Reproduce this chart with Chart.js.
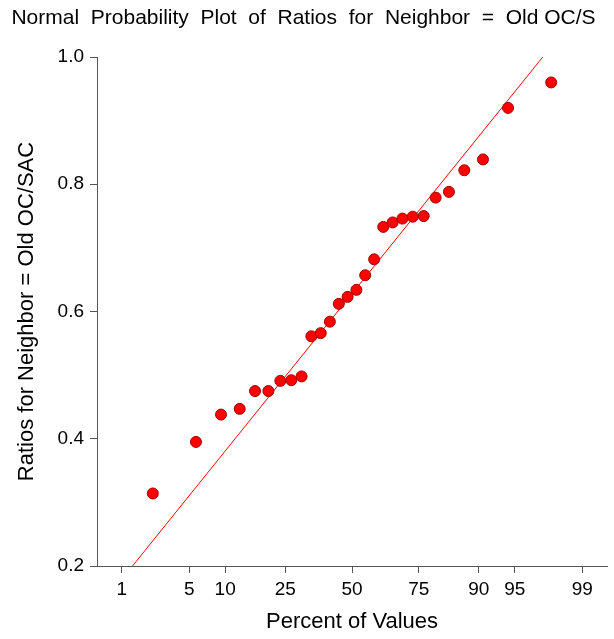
<!DOCTYPE html>
<html lang="en">
<head>
<meta charset="UTF-8" />
<title>Normal Probability Plot</title>
<script src="https://cdn.jsdelivr.net/npm/chart.js"></script>
<style>
  html, body { margin: 0; padding: 0; background: #fff; }
  #wrap { width: 614px; height: 639px; }
</style>
</head>
<body>
<div id="wrap"><canvas id="probPlot"></canvas></div>
<script>
  // sorted ratios and their plotting positions (percent of values)
  const ratioValues = [0.314, 0.395, 0.438, 0.447, 0.475, 0.475, 0.491, 0.492, 0.498, 0.561,
                       0.566, 0.584, 0.612, 0.623, 0.634, 0.657, 0.682, 0.733, 0.740, 0.746,
                       0.749, 0.750, 0.779, 0.788, 0.822, 0.839, 0.920, 0.960];
  const plotPercents = [2.21, 5.75, 9.29, 12.83, 16.37, 19.91, 23.45, 26.99, 30.53, 34.07,
                        37.61, 41.15, 44.69, 48.23, 51.77, 55.31, 58.85, 62.39, 65.93, 69.47,
                        73.01, 76.55, 80.09, 83.63, 87.17, 90.71, 94.25, 97.79];
  const tickPercents = [1, 5, 10, 25, 50, 75, 90, 95, 99];
  const yTickValues = [0.2, 0.4, 0.6, 0.8, 1.0];
  // reference line end points
  const fitPercents = [1.33, 97.3];
  const fitValues = [0.2, 1.0];

  const axisRange = [0.5, 99.5];

  // inverse standard normal CDF (Acklam)
  function probit(p) {
    const a = [-3.969683028665376e+01, 2.209460984245205e+02, -2.759285104469687e+02,
               1.383577518672690e+02, -3.066479806614716e+01, 2.506628277459239e+00];
    const b = [-5.447609879822406e+01, 1.615858368580409e+02, -1.556989798598866e+02,
               6.680131188771972e+01, -1.328068155288572e+01];
    const c = [-7.784894002430293e-03, -3.223964580411365e-01, -2.400758277161838e+00,
               -2.549732539343734e+00, 4.374664141464968e+00, 2.938163982698783e+00];
    const d = [7.784695709041462e-03, 3.224671290700398e-01, 2.445134137142996e+00,
               3.754408661907416e+00];
    const lo = 0.02425, hi = 1 - lo;
    let q, r;
    if (p < lo) {
      q = Math.sqrt(-2 * Math.log(p));
      return (((((c[0]*q+c[1])*q+c[2])*q+c[3])*q+c[4])*q+c[5]) /
             ((((d[0]*q+d[1])*q+d[2])*q+d[3])*q+1);
    }
    if (p > hi) {
      q = Math.sqrt(-2 * Math.log(1 - p));
      return -(((((c[0]*q+c[1])*q+c[2])*q+c[3])*q+c[4])*q+c[5]) /
              ((((d[0]*q+d[1])*q+d[2])*q+d[3])*q+1);
    }
    q = p - 0.5;
    r = q * q;
    return (((((a[0]*r+a[1])*r+a[2])*r+a[3])*r+a[4])*r+a[5])*q /
           (((((b[0]*r+b[1])*r+b[2])*r+b[3])*r+b[4])*r+1);
  }
  const z = pct => probit(pct / 100);

  const FONT = "'Liberation Sans', Arial, sans-serif";
  const AXIS_COLOR = '#555';

  const points = ratioValues.map((v, i) => ({ x: z(plotPercents[i]), y: v }));
  const fitLine = fitValues.map((v, i) => ({ x: z(fitPercents[i]), y: v }));

  // the x axis line runs a few pixels past the y axis on the left
  const axisStub = {
    id: 'axisStub',
    afterDraw(chart) {
      const { ctx, chartArea } = chart;
      ctx.save();
      ctx.strokeStyle = AXIS_COLOR;
      ctx.lineWidth = 1;
      ctx.beginPath();
      ctx.moveTo(chartArea.left - 5, chartArea.bottom + 0.5);
      ctx.lineTo(chartArea.left, chartArea.bottom + 0.5);
      ctx.stroke();
      ctx.restore();
    }
  };

  new Chart(document.getElementById('probPlot'), {
    type: 'scatter',
    data: {
      datasets: [
        {
          label: 'Fit',
          type: 'line',
          data: fitLine,
          borderColor: '#ff0000',
          borderWidth: 1,
          pointRadius: 0,
          fill: false,
          order: 2
        },
        {
          label: 'Ratios',
          data: points,
          backgroundColor: '#ff0000',
          borderColor: '#a00000',
          borderWidth: 1,
          pointRadius: 5.5,
          pointHoverRadius: 5.5,
          order: 1
        }
      ]
    },
    options: {
      responsive: true,
      maintainAspectRatio: false,
      animation: false,
      layout: { padding: { left: 0, right: 7, top: 0, bottom: 0 } },
      plugins: {
        legend: { display: false },
        tooltip: { enabled: false },
        title: {
          display: true,
          text: 'Normal  Probability  Plot  of  Ratios  for  Neighbor  =  Old OC/S',
          color: '#000',
          font: { family: FONT, size: 21, weight: 'normal' },
          padding: { top: 6, bottom: 25.8 }
        }
      },
      scales: {
        x: {
          type: 'linear',
          min: z(axisRange[0]),
          max: z(axisRange[1]),
          afterBuildTicks: axis => { axis.ticks = tickPercents.map(p => ({ value: z(p) })); },
          afterFit: axis => { axis.height = 73; },
          ticks: {
            color: '#000',
            font: { family: FONT, size: 19 },
            padding: 5,
            autoSkip: false,
            maxRotation: 0,
            callback: (val, idx) => String(tickPercents[idx])
          },
          grid: { drawOnChartArea: false, drawTicks: true, tickLength: 7, color: AXIS_COLOR },
          border: { display: true, color: AXIS_COLOR, width: 1 },
          title: {
            display: true,
            text: 'Percent of Values',
            color: '#000',
            font: { family: FONT, size: 22 },
            padding: { top: 0, bottom: 3.5 }
          }
        },
        y: {
          min: 0.2,
          max: 1.0,
          afterBuildTicks: axis => { axis.ticks = yTickValues.map(v => ({ value: v })); },
          afterFit: axis => { axis.width = 97; },
          ticks: {
            color: '#000',
            font: { family: FONT, size: 19 },
            padding: 6,
            callback: val => val.toFixed(1)
          },
          grid: { drawOnChartArea: false, drawTicks: true, tickLength: 7, color: AXIS_COLOR },
          border: { display: true, color: AXIS_COLOR, width: 1 },
          title: {
            display: true,
            text: 'Ratios for Neighbor = Old OC/SAC',
            color: '#000',
            font: { family: FONT, size: 22 },
            padding: { top: 13.8, bottom: 0 }
          }
        }
      }
    },
    plugins: [axisStub]
  });
</script>
</body>
</html>
